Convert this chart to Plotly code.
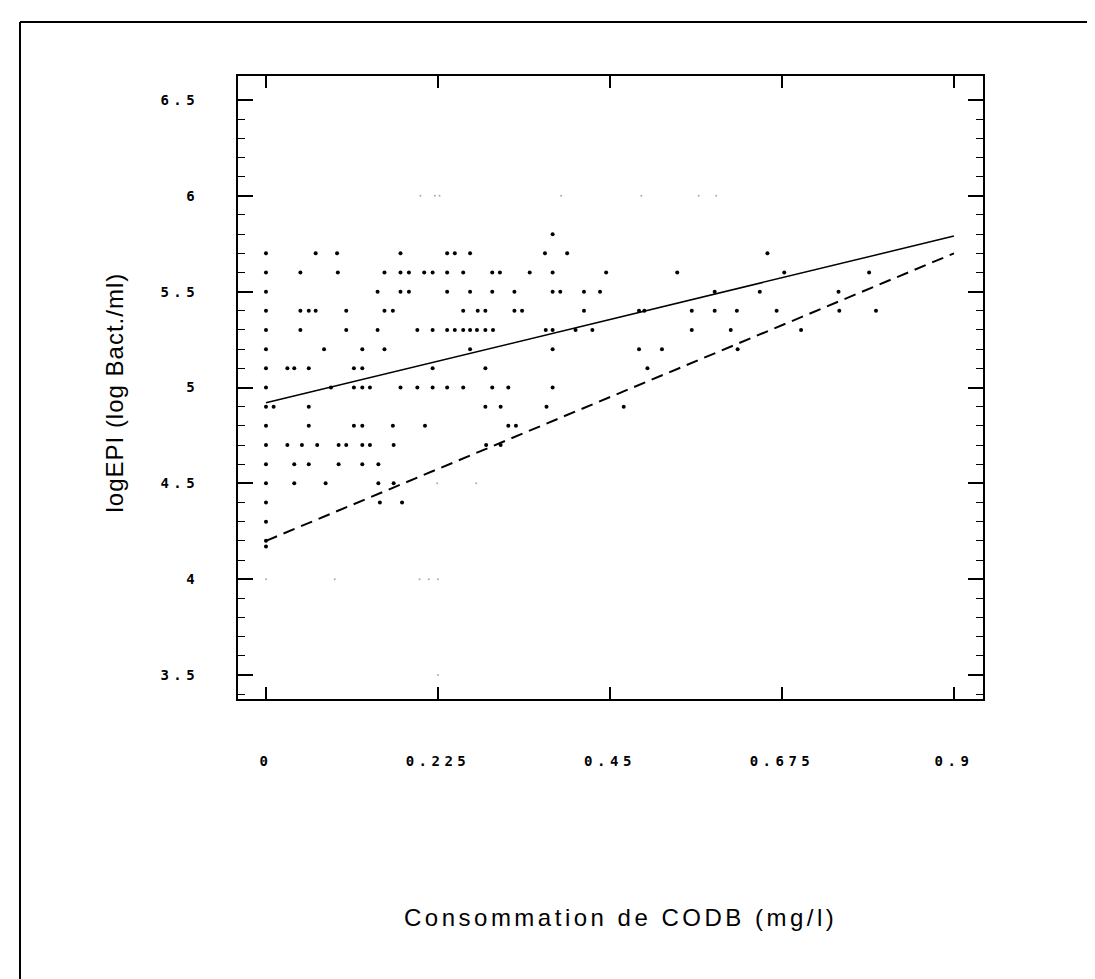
import plotly.graph_objects as go

# scatter points, grouped by logEPI row
rows = {
    5.8: [0.375],
    5.7: [0, 0.065, 0.093, 0.176, 0.237, 0.247, 0.267, 0.365, 0.394, 0.656],
    5.6: [0, 0.045, 0.094, 0.155, 0.176, 0.187, 0.207, 0.218, 0.237, 0.258, 0.296, 0.306,
          0.345, 0.375, 0.445, 0.538, 0.678, 0.789],
    5.5: [0, 0.146, 0.176, 0.187, 0.237, 0.267, 0.296, 0.325, 0.375, 0.385, 0.416, 0.437,
          0.587, 0.646, 0.749],
    5.4: [0, 0.045, 0.056, 0.065, 0.105, 0.155, 0.166, 0.258, 0.277, 0.287, 0.325, 0.335,
          0.416, 0.488, 0.495, 0.557, 0.587, 0.616, 0.668, 0.750, 0.798],
    5.3: [0, 0.045, 0.105, 0.146, 0.198, 0.218, 0.237, 0.247, 0.258, 0.267, 0.276, 0.287,
          0.297, 0.366, 0.375, 0.405, 0.427, 0.557, 0.608, 0.700],
    5.2: [0, 0.076, 0.126, 0.155, 0.267, 0.375, 0.488, 0.518, 0.617],
    5.1: [0, 0.028, 0.037, 0.056, 0.115, 0.126, 0.218, 0.287, 0.499],
    5.0: [0, 0.085, 0.115, 0.126, 0.136, 0.176, 0.198, 0.218, 0.237, 0.258, 0.296, 0.317, 0.375],
    4.9: [0, 0.01, 0.056, 0.287, 0.307, 0.367, 0.468],
    4.8: [0, 0.056, 0.115, 0.126, 0.166, 0.208, 0.317, 0.327],
    4.7: [0, 0.028, 0.047, 0.067, 0.095, 0.105, 0.126, 0.136, 0.167, 0.288, 0.307],
    4.6: [0, 0.037, 0.056, 0.095, 0.126, 0.147],
    4.5: [0, 0.037, 0.078, 0.147, 0.167],
    4.4: [0, 0.149, 0.178],
    4.3: [0],
    4.2: [0],
    4.17: [0],
}
x_pts = [x for y, xs in rows.items() for x in xs]
y_pts = [y for y, xs in rows.items() for x in xs]

# faint specks printed on the scan
faint_x = [0.202, 0.221, 0.227, 0.386, 0.491, 0.566, 0.589, 0.224, 0.275, 0, 0.09, 0.201, 0.213, 0.225, 0.225]
faint_y = [6.0, 6.0, 6.0, 6.0, 6.0, 6.0, 6.0, 4.5, 4.5, 4.0, 4.0, 4.0, 4.0, 4.0, 3.5]

# fitted lines
fit_x = [0, 0.9]
fit_solid = [4.92, 5.79]
fit_dashed = [4.2, 5.7]

x_ticks = [0, 0.225, 0.45, 0.675, 0.9]
x_labels = ["0", "0.225", "0.45", "0.675", "0.9"]
y_ticks = [3.5, 4, 4.5, 5, 5.5, 6, 6.5]
y_labels = ["3.5", "4", "4.5", "5", "5.5", "6", "6.5"]

def spaced(s, gap=4.5):
    return '<span style="letter-spacing:%spx">%s</span>' % (gap, s)

W, H = 1095, 979
L, R, T, B = 230, 120, 68, 288
pw, ph = W - L - R, H - T - B

def px(x):
    return (x - L) / pw

def py(y):
    return (H - B - y) / ph

fig = go.Figure()
fig.add_trace(go.Scatter(x=faint_x, y=faint_y, mode="markers",
                         marker=dict(size=2, color="#aaaaaa"), hoverinfo="skip"))
fig.add_trace(go.Scatter(x=x_pts, y=y_pts, mode="markers",
                         marker=dict(size=4, color="black")))
fig.add_trace(go.Scatter(x=fit_x, y=fit_solid, mode="lines",
                         line=dict(color="black", width=1.5)))
fig.add_trace(go.Scatter(x=fit_x, y=fit_dashed, mode="lines",
                         line=dict(color="black", width=2, dash="12px,7px")))

tick_font = dict(family="DejaVu Sans Mono", size=14, color="black", weight="bold")

fig.update_xaxes(range=[-0.0366, 0.938], tickvals=x_ticks, ticktext=[spaced(s) for s in x_labels],
                 ticks="inside", ticklen=12, tickwidth=1.5, tickcolor="black",
                 showline=True, linecolor="black", linewidth=2, mirror="ticks",
                 showgrid=False, zeroline=False, tickfont=tick_font, ticklabelstandoff=48)
fig.update_yaxes(range=[3.375, 6.625], tickvals=y_ticks, ticktext=[spaced(s) for s in y_labels],
                 ticks="inside", ticklen=15, tickwidth=1.5, tickcolor="black",
                 minor=dict(tickvals=[v / 10 for v in range(34, 66)], ticks="inside", ticklen=7,
                            tickcolor="black", tickwidth=1),
                 showline=True, linecolor="black", linewidth=2, mirror="ticks",
                 showgrid=False, zeroline=False, tickfont=tick_font, ticklabelstandoff=34)

fig.add_annotation(text=spaced("logEPI (log Bact./ml)", 1), textangle=-90, showarrow=False,
                   xref="paper", yref="paper", x=px(90), y=py(385),
                   font=dict(family="Liberation Sans", size=24, color="black"))
fig.add_annotation(text=spaced("Consommation de CODB (mg/l)", 3.5), showarrow=False,
                   xref="paper", yref="paper", x=px(612), y=py(925),
                   font=dict(family="Liberation Sans", size=24, color="black"))

# scanned page frame (left and top edges)
fig.add_shape(type="line", xref="paper", yref="paper", x0=px(12), x1=px(12), y0=py(14), y1=py(979),
              line=dict(color="black", width=2))
fig.add_shape(type="line", xref="paper", yref="paper", x0=px(12), x1=px(1095), y0=py(14), y1=py(14),
              line=dict(color="black", width=2))

fig.update_layout(width=W, height=H, margin=dict(l=L, r=R, t=T, b=B),
                  plot_bgcolor="white", paper_bgcolor="white", showlegend=False)
fig.write_html("out.html")
